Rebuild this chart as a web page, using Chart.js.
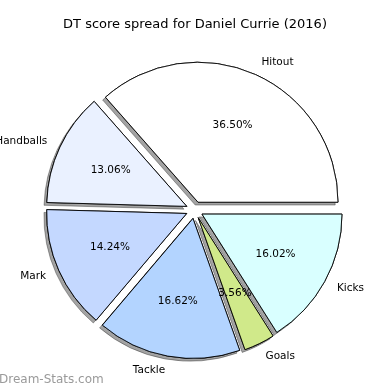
<!DOCTYPE html>
<html>
<head>
<meta charset="utf-8">
<script src="https://cdn.jsdelivr.net/npm/chart.js@4.4.1/dist/chart.umd.min.js"></script>
<style>
  html, body { margin: 0; padding: 0; background: #ffffff; }
  #wrap { width: 390px; height: 390px; }
</style>
</head>
<body>
<div id="wrap"><canvas id="c" width="390" height="390"></canvas></div>
<script>
// Data (order reversed so Chart.js clockwise drawing matches matplotlib's counter-clockwise layout)
const categories = ['Kicks', 'Goals', 'Tackle', 'Mark', 'Handballs', 'Hitout'];
const percentages = [16.02, 3.56, 16.62, 14.24, 13.06, 36.50];
const sliceColors = ['#d9ffff', '#d0e98a', '#b3d4ff', '#c4d8ff', '#eaf1ff', '#ffffff'];
const chartTitle = 'DT score spread for Daniel Currie (2016)';
const watermark = 'Dream-Stats.com';

const EXPLODE = 0.061;   // fraction of radius
const SHADOW = 0.02;     // fraction of radius
const FONT = 'DejaVu Sans, sans-serif';

const piePlugin = {
  id: 'mplPie',
  beforeDatasetDraw(chart, args) {
    const ctx = chart.ctx;
    const arcs = args.meta.data;
    const R = arcs[0].outerRadius;
    const pass = (shadow) => {
      arcs.forEach((arc) => {
        const mid = (arc.startAngle + arc.endAngle) / 2;
        const d = EXPLODE * R;
        ctx.save();
        ctx.translate(Math.cos(mid) * d, Math.sin(mid) * d);
        if (shadow) {
          ctx.shadowColor = 'rgba(0,0,0,0.36)';
          ctx.shadowOffsetX = -SHADOW * R;
          ctx.shadowOffsetY = SHADOW * R;
          ctx.shadowBlur = 0;
        }
        arc.draw(ctx);
        ctx.restore();
      });
    };
    pass(true);
    pass(false);
    return false;
  },
  afterDraw(chart) {
    const ctx = chart.ctx;
    const meta = chart.getDatasetMeta(0);
    const arcs = meta.data;
    ctx.save();
    ctx.fillStyle = '#000';
    arcs.forEach((arc, i) => {
      const R = arc.outerRadius;
      const mid = (arc.startAngle + arc.endAngle) / 2;
      const cx = arc.x + Math.cos(mid) * EXPLODE * R;
      const cy = arc.y + Math.sin(mid) * EXPLODE * R;
      // category label
      ctx.font = '10.5px ' + FONT;
      ctx.textBaseline = 'middle';
      const lx = cx + Math.cos(mid) * 1.1 * R;
      const ly = cy + Math.sin(mid) * 1.1 * R;
      ctx.textAlign = Math.cos(mid) > 0 ? 'left' : 'right';
      ctx.fillText(categories[i], lx, ly);
      // percent label
      ctx.textAlign = 'center';
      const px = cx + Math.cos(mid) * 0.6 * R;
      const py = cy + Math.sin(mid) * 0.6 * R;
      ctx.fillText(percentages[i].toFixed(2) + '%', px, py);
    });
    // title
    ctx.font = '13px ' + FONT;
    ctx.textAlign = 'center';
    ctx.textBaseline = 'middle';
    ctx.fillText(chartTitle, 195, 25);
    // watermark
    ctx.font = '12px ' + FONT;
    ctx.fillStyle = '#9a9a9a';
    ctx.textAlign = 'left';
    ctx.textBaseline = 'middle';
    ctx.fillText(watermark, -1, 380);
    ctx.restore();
  }
};

new Chart(document.getElementById('c'), {
  type: 'pie',
  data: {
    labels: categories,
    datasets: [{
      data: percentages,
      backgroundColor: sliceColors,
      borderColor: '#000000',
      borderWidth: 0.9
    }]
  },
  options: {
    responsive: false,
    animation: false,
    rotation: 90,
    radius: 140,
    layout: { padding: { left: 0, right: 1, top: 30, bottom: 0 } },
    plugins: {
      legend: { display: false },
      tooltip: { enabled: false },
      title: { display: false }
    }
  },
  plugins: [piePlugin]
});
</script>
</body>
</html>
